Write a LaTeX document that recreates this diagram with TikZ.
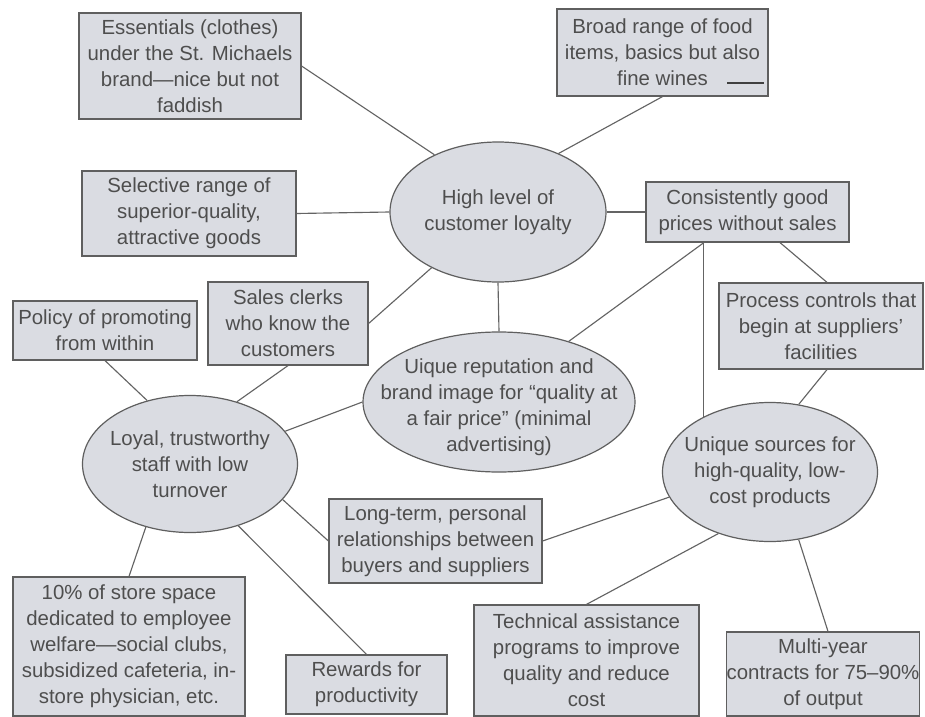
\documentclass[tikz,border=0pt]{standalone}
\usepackage{fontspec}
\setmainfont{Liberation Sans}
\usetikzlibrary{shapes.geometric}
\definecolor{paper}{RGB}{218,220,226}
\definecolor{edge}{RGB}{95,95,95}
\definecolor{ink}{RGB}{78,78,78}
\definecolor{wire}{RGB}{100,100,100}
\begin{document}
\begin{tikzpicture}[x=0.75pt,y=-0.75pt,
  every node/.style={font=\fontsize{15.3}{19.5}\selectfont, text=ink},
  box/.style 2 args={draw=edge, fill=paper, line width=0.9pt, inner sep=0pt,
    align=center, minimum width=#1*0.75pt, minimum height=#2*0.75pt},
  ell/.style 2 args={ellipse, draw=edge, fill=paper, line width=0.9pt, inner sep=0pt,
    minimum width=#1*0.75pt, minimum height=#2*0.75pt},
  txt/.style={align=center},
  link/.style={draw=wire, line width=0.85pt}]

\fill[white] (0,0) rectangle (925,717);
\useasboundingbox (0,0) rectangle (925,717);

% rectangular boxes
\node[box={222}{106}] (ess) at (190,66) {Essentials (clothes)\\under the St. Michaels\\brand—nice but not\\faddish};
\node[box={211}{87}] (broad) at (662.5,52.5) {Broad range of food\\items, basics but also\\fine wines};
\node[box={214}{85}] (sel) at (189,213.5) {Selective range of\\superior-quality,\\attractive goods};
\node[box={203}{60}] (cons) at (747.5,212) {Consistently good\\prices without sales};
\node[box={160}{83}] (sales) at (288,323.5) {Sales clerks\\who know the\\customers};
\node[box={184}{59}] (pol) at (105,330.5) {Policy of promoting\\from within};
\node[box={204}{86}] (proc) at (821,326) {Process controls that\\begin at suppliers'\\facilities};
\node[box={213}{84}] (long) at (435.5,541) {Long-term, personal\\relationships between\\buyers and suppliers};
\node[box={232}{139}] (ten) at (129,646.5) {10\% of store space\\dedicated to employee\\welfare—social clubs,\\subsidized cafeteria, in-\\store physician, etc.};
\node[box={161}{59}] (rew) at (366.5,684.5) {Rewards for\\productivity};
\node[box={225}{111}] (tech) at (586.5,660.5) {Technical assistance\\programs to improve\\quality and reduce\\cost};
\node[box={192}{84}] (multi) at (823,674) {Multi-year\\contracts for 75–90\%\\of output};

% short dark stroke after "fine wines"
\draw[black!75, line width=1.8pt] (727,83) -- (764,83);

% elliptical nodes
\node[ell={216}{140}, label={[txt]center:{High level of\\customer loyalty}}] (A) at (498,212) {};
\node[ell={272}{140}, label={[txt, yshift=-4pt]center:{Uique reputation and\\brand image for “quality at\\a fair price” (minimal\\advertising)}}] (B) at (499,402) {};
\node[ell={215}{137}, label={[txt]center:{Loyal, trustworthy\\staff with low\\turnover}}] (C) at (190,464) {};
\node[ell={215}{139}, label={[txt]center:{Unique sources for\\high-quality, low-\\cost products}}] (D) at (770,472) {};

% connectors
\draw[link] (ess.east) -- (A.138);
\draw[link] (broad.south) -- (A.44);
\draw[link] (sel.east) -- (A.west);
\draw[link] (A.east) -- (cons.west);
\draw[link] (sales.east) -- (A.220);
\draw[link] (A.south) -- (B.north);
\draw[link] (D.140 |- cons.south) -- (B.41);
\draw[link] (D.140 |- cons.south) -- (D.140);
\draw[link] ([shift={(32.5,0)}]cons.south) -- ([shift={(6,0)}]proc.north);
\draw[link] ([shift={(6,0)}]proc.south) -- (D.67);
\draw[link] (pol.south) -- (C.124);
\draw[link] (sales.south) -- (C.53);
\draw[link] (C.19) -- (B.west);
\draw[link] (C.-21) -- (long.west);
\draw[link] (C.-125) -- (ten.north);
\draw[link] (C.-52) -- (rew.north);
\draw[link] (long.east) -- (D.-166);
\draw[link] (D.-130) -- (tech.north);
\draw[link] (D.-67) -- ([shift={(5,0)}]multi.north);
\end{tikzpicture}
\end{document}
